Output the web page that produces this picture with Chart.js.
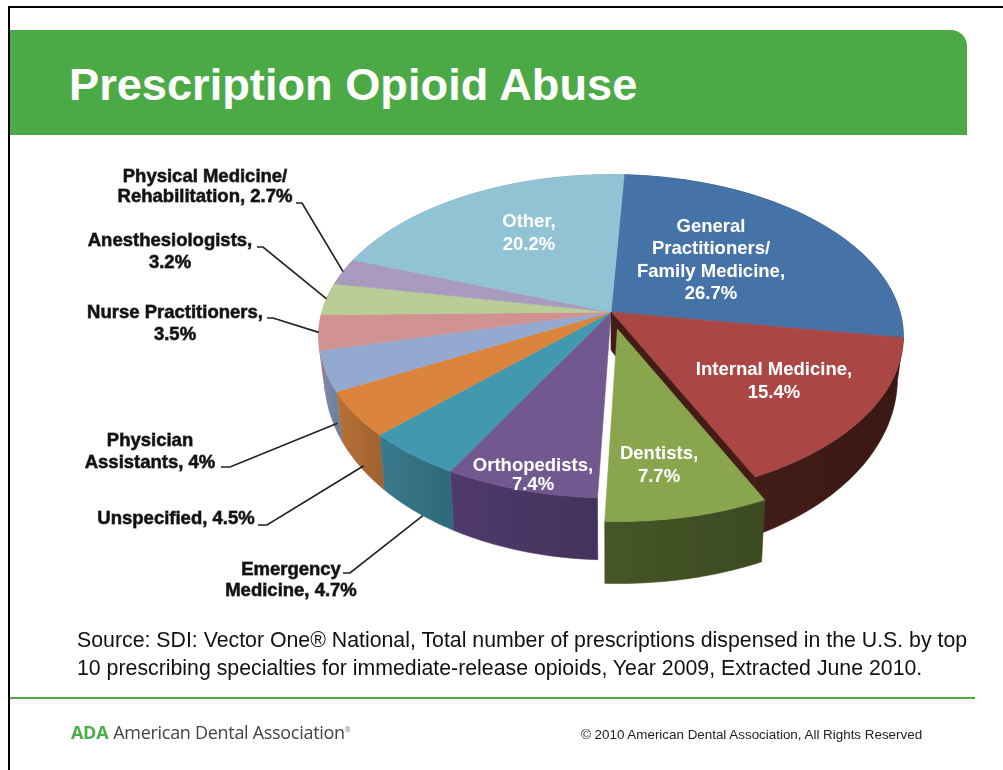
<!DOCTYPE html>
<html>
<head>
<meta charset="utf-8">
<script src="https://cdn.jsdelivr.net/npm/chart.js@4"></script>
<style>
  html,body{margin:0;padding:0;background:#fff;}
  body{width:1003px;height:770px;position:relative;overflow:hidden;font-family:"Liberation Sans",Arial,sans-serif;}
  #frameTop{position:absolute;left:8px;top:6px;width:995px;height:2px;background:#000;}
  #frameLeft{position:absolute;left:8px;top:6px;width:2px;height:764px;background:#000;}
  #header{position:absolute;left:10px;top:30px;width:957px;height:105px;background:#4caa46;border-top-right-radius:16px;}
  #title{position:absolute;left:69px;top:60px;color:#fff;font-size:45.2px;font-weight:bold;line-height:50px;white-space:nowrap;}
  #source{position:absolute;left:77px;top:626px;font-size:21.3px;line-height:28px;color:#111;white-space:nowrap;}
  #rule{position:absolute;left:10px;top:697px;width:965px;height:2px;background:#4caa46;}
  #ada{position:absolute;left:71px;top:719px;font-family:"Open Sans",sans-serif;font-size:18px;line-height:22px;color:#444;white-space:nowrap;letter-spacing:-.3px;}
  #ada b{color:#4cae4c;margin-right:5px;}
  #ada sup{font-size:7px;vertical-align:7px;color:#777;}
  #copy{position:absolute;left:581px;top:728px;font-size:13.4px;line-height:14px;color:#222;white-space:nowrap;}
  #myChart{position:absolute;left:0;top:0;}
</style>
</head>
<body>
<div id="frameTop"></div>
<div id="frameLeft"></div>
<div id="header"></div>
<div id="title">Prescription Opioid Abuse</div>
<canvas id="myChart" width="1003" height="770"></canvas>
<div id="source">Source: SDI: Vector One® National, Total number of prescriptions dispensed in the U.S. by top<br>10 prescribing specialties for immediate-release opioids, Year 2009, Extracted June 2010.</div>
<div id="rule"></div>
<div id="ada"><b>ADA</b>American Dental Association<sup>®</sup></div>
<div id="copy">© 2010 American Dental Association, All Rights Reserved</div>
<script>
const categories = ['General Practitioners/Family Medicine','Internal Medicine','Dentists','Orthopedists','Emergency Medicine','Unspecified','Physician Assistants','Nurse Practitioners','Anesthesiologists','Physical Medicine/Rehabilitation','Other'];
const shares = [26.7,15.4,7.7,7.4,4.7,4.5,4,3.5,3.2,2.7,20.2];
const labelLines = [
  ['General','Practitioners/','Family Medicine,','26.7%'],
  ['Internal Medicine,','15.4%'],
  ['Dentists,','7.7%'],
  ['Orthopedists,','7.4%'],
  ['Emergency','Medicine, 4.7%'],
  ['Unspecified, 4.5%'],
  ['Physician','Assistants, 4%'],
  ['Nurse Practitioners,','3.5%'],
  ['Anesthesiologists,','3.2%'],
  ['Physical Medicine/','Rehabilitation, 2.7%'],
  ['Other,','20.2%']
];
const topColors = ['#4572a7','#aa4643','#89a54e','#71588f','#4198af','#db843d','#93a9cf','#d19392','#b9cd96','#a99bbd','#92c3d5'];
const wallColors = ['#2f4d72','#431c18','#465626','#4f3a6b','#387a8c','#b87137','#7d90b0','#b07c7b','#9cad7e','#8f83a0','#7ba5b4'];

// label placement: centre x, first baseline-middle y, line step
const labelSpots = [
  [711,227,22.3],[774,370,23],[659,454,23],[533,466,19],
  [291,570,21],[176,519,0],[150,441,22],[175,313,22],[170,241,22],[205,177,20],[529,222,23]
];
// leader lines for the small slices: stub start x, stub end x, stub y, where on the slice, how far down the wall
const leaders = {
  4:[343,350,573,.6,1],
  5:[258,267,525,.6,.9],
  6:[221,230,467,.88,.75],
  7:[267,273,318,.5,0],
  8:[257,263,247,.5,0],
  9:[296,302,203,.5,0]
};

const perspective = .15, spanX = 289, spanY = 158;

function project(arc,angle,radial,onFloor){
  const mid = (arc.startAngle+arc.endAngle)/2;
  const off = (arc.options.offset||0)/arc.outerRadius;
  const u = radial*Math.cos(angle)+off*Math.cos(mid);
  const v = radial*Math.sin(angle)+off*Math.sin(mid);
  const w = 1-perspective*v;
  let x = arc.x+spanX*u/w, y = arc.y+spanY*v/w;
  if(onFloor){
    x = arc.x+(x-arc.x)*.98;
    y += 38+24*Math.min(v,1);
  }
  return {x,y};
}

function arcPoints(arc,onFloor){
  const pts = [], n = 48;
  for(let i=0;i<=n;i++){
    pts.push(project(arc,arc.startAngle+(arc.endAngle-arc.startAngle)*i/n,1,onFloor));
  }
  return pts;
}

function fillPoly(ctx,pts,fill){
  ctx.beginPath();
  pts.forEach((p,i)=> i ? ctx.lineTo(p.x,p.y) : ctx.moveTo(p.x,p.y));
  ctx.closePath();
  ctx.fillStyle = fill;
  ctx.strokeStyle = fill;
  ctx.lineWidth = .6;
  ctx.fill();
  ctx.stroke();
}

function drawWall(ctx,arc,color){
  const top = arcPoints(arc,false), floor = arcPoints(arc,true).reverse();
  const pts = top.concat(floor);
  fillPoly(ctx,pts,color);
  const xs = pts.map(p=>p.x);
  const shade = ctx.createLinearGradient(Math.min(...xs),0,Math.max(...xs),0);
  shade.addColorStop(0,'rgba(0,0,0,0)');
  shade.addColorStop(1,'rgba(0,0,0,.14)');
  ctx.fillStyle = shade;
  ctx.fill();
}

function drawTop(ctx,arc,color){
  fillPoly(ctx,[project(arc,0,0,false)].concat(arcPoints(arc,false)),color);
}

// cut face left open behind a pulled-out slice
function drawCut(ctx,arc,color){
  const a = project(arc,arc.endAngle,0,false), b = project(arc,arc.endAngle,1,false);
  const c = project(arc,arc.endAngle,1,true), d = project(arc,arc.endAngle,0,true);
  fillPoly(ctx,[a,b,c,d],color);
}

const pie3d = {
  id:'pie3d',
  beforeDatasetDraw(chart,args){
    const ctx = chart.ctx, arcs = args.meta.data;
    const pulled = arcs.findIndex(a=>a.options.offset>0);
    ctx.save();
    arcs.forEach((arc,i)=>{ if(i!==pulled) drawWall(ctx,arc,wallColors[i]); });
    arcs.forEach((arc,i)=>{ if(i!==pulled) drawTop(ctx,arc,topColors[i]); });
    drawCut(ctx,arcs[pulled-1],wallColors[pulled-1]);
    drawWall(ctx,arcs[pulled],wallColors[pulled]);
    drawTop(ctx,arcs[pulled],topColors[pulled]);
    ctx.restore();
    return false;
  },
  afterDatasetsDraw(chart){
    const ctx = chart.ctx, arcs = chart.getDatasetMeta(0).data;
    ctx.save();
    ctx.textAlign = 'center';
    ctx.textBaseline = 'middle';
    arcs.forEach((arc,i)=>{
      const lead = leaders[i];
      if(lead){
        const ang = arc.startAngle+(arc.endAngle-arc.startAngle)*(1-lead[3]);
        const t = project(arc,ang,1,false), f = project(arc,ang,1,true);
        ctx.beginPath();
        ctx.moveTo(lead[0],lead[2]);
        ctx.lineTo(lead[1],lead[2]);
        ctx.lineTo(t.x+(f.x-t.x)*lead[4],t.y+(f.y-t.y)*lead[4]);
        ctx.strokeStyle = '#222';
        ctx.lineWidth = 1.7;
        ctx.stroke();
      }
      const inside = !lead;
      ctx.font = 'bold 18.5px "Liberation Sans"';
      ctx.fillStyle = inside ? '#fff' : '#111';
      ctx.strokeStyle = inside ? 'rgba(255,255,255,.2)' : 'rgba(20,20,20,.7)';
      ctx.lineWidth = inside ? .3 : .8;
      const spot = labelSpots[i];
      labelLines[i].forEach((line,k)=>{
        ctx.fillText(line,spot[0],spot[1]+k*spot[2]);
        ctx.strokeText(line,spot[0],spot[1]+k*spot[2]);
      });
    });
    ctx.restore();
  }
};

new Chart('myChart',{
  type:'pie',
  data:{
    labels:categories,
    datasets:[{
      data:shares,
      backgroundColor:topColors,
      borderWidth:0,
      offset:ctx=>ctx.dataIndex===2 ? 32 : 0
    }]
  },
  options:{
    responsive:false,
    animation:false,
    rotation:3,
    layout:{padding:{left:219,bottom:146}},
    events:[],
    plugins:{
      legend:{display:false},
      tooltip:{enabled:false}
    }
  },
  plugins:[pie3d]
});
</script>
</body>
</html>
